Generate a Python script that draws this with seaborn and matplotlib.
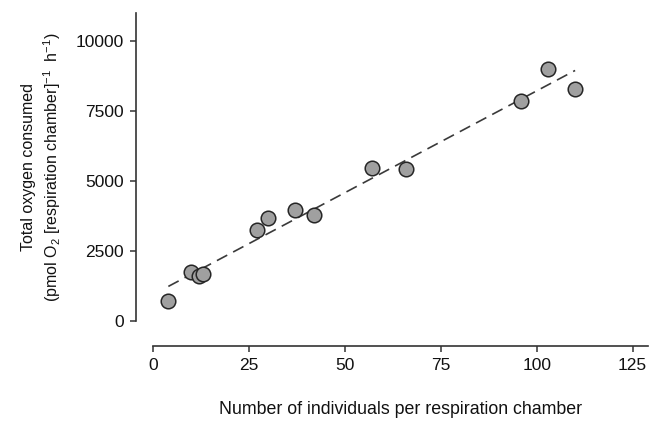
import matplotlib
matplotlib.use("Agg")
import matplotlib.pyplot as plt
import pandas as pd
import seaborn as sns

# values
individuals = [4, 10, 12, 13, 27, 30, 37, 42, 57, 66, 96, 103, 110]
oxygen = [700, 1760, 1600, 1680, 3250, 3680, 3960, 3780, 5460, 5430, 7850, 9000, 8290]
x_ticks = [0, 25, 50, 75, 100, 125]
y_ticks = [0, 2500, 5000, 7500, 10000]

df = pd.DataFrame({"n": individuals, "o2": oxygen})

sns.set_style("ticks")
plt.rcParams["font.family"] = ["Liberation Sans", "DejaVu Sans"]
plt.rcParams["mathtext.fontset"] = "custom"
plt.rcParams["mathtext.rm"] = "Liberation Sans"
plt.rcParams["mathtext.it"] = "Liberation Sans:italic"

fig = plt.figure(figsize=(6.49, 4.32), dpi=100)
ax = fig.add_axes([153 / 649, 111 / 432, 495 / 649, 308 / 432])

sns.regplot(data=df, x="n", y="o2", ax=ax, ci=None,
            scatter_kws=dict(s=110, color="#a0a0a0", edgecolor="#262626",
                             linewidths=1.1, alpha=1, zorder=3),
            line_kws=dict(color="#3a3a3a", lw=1.2, ls=(0, (7, 4)), zorder=2))

ax.set_xlim(0, 129)
ax.set_ylim(0, 11000)
ax.set_xticks(x_ticks)
ax.set_yticks(y_ticks)

ax.spines["top"].set_visible(False)
ax.spines["right"].set_visible(False)
# spines detached from the data area (offsets in points)
ax.spines["bottom"].set_position(("outward", 18))
ax.spines["left"].set_position(("outward", 12))
for s in ("bottom", "left"):
    ax.spines[s].set_color("#333333")
    ax.spines[s].set_linewidth(1.2)
ax.tick_params(axis="both", labelsize=12.5, length=4, width=1.1, color="#333333",
               labelcolor="#111111", pad=5)

ax.set_xlabel("Number of individuals per respiration chamber", fontsize=12.8,
              labelpad=20, color="#111111")
ax.set_ylabel("Total oxygen consumed\n(pmol O$_2$ [respiration chamber]$^{-1}$  h$^{-1}$)",
              fontsize=11.5, labelpad=9, color="#111111", linespacing=1.35)

fig.savefig("out.png", dpi=100)
